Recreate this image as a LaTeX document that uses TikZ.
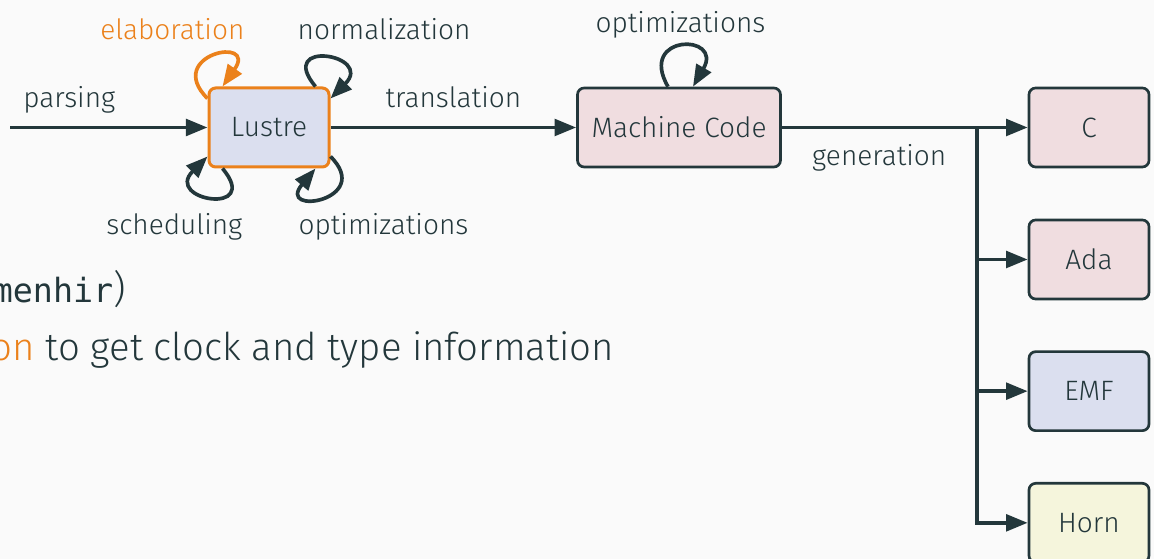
\documentclass[tikz,border=0pt]{standalone}
\usepackage{fontspec}
\setmainfont{Fira Sans Light}
\setmonofont{DejaVu Sans Mono}[Scale=0.87]
\usetikzlibrary{arrows.meta,positioning}

\definecolor{mDarkTeal}{HTML}{23373B}
\definecolor{mLightBrown}{HTML}{EB811B}
\definecolor{mBg}{HTML}{FAFAFA}
\definecolor{irBlue}{HTML}{DBDFEF}
\definecolor{irPink}{HTML}{F0DDE0}
\definecolor{irYellow}{HTML}{F5F5DC}

\tikzset{
  lang/.style={draw=mDarkTeal, line width=0.8pt, rounded corners=2pt, text=mDarkTeal,
    minimum width=36pt, minimum height=23.7pt, inner xsep=4.2pt, font=\fontsize{8.4}{10}\selectfont},
  flow/.style={draw=mDarkTeal, line width=1.1pt, -{Triangle[length=6.5pt,width=5pt]}},
  lbl/.style={text=mDarkTeal, font=\fontsize{8.4}{10}\selectfont, text height=7.6pt, text depth=2.1pt},
  passlbl/.style={lbl, inner sep=0pt},
  slide/.style={text=mDarkTeal, inner sep=0pt, anchor=base east, font=\fontsize{11.5}{14}\selectfont},
}

\begin{document}
\begin{tikzpicture}[node distance=123pt, on grid]
  \fill[mBg] (0,0) rectangle (346.2pt,-167.7pt);
  \useasboundingbox (0,0) rectangle (346.2pt,-167.7pt);
  \clip (0,0) rectangle (346.2pt,-167.7pt);

  % slide text behind the diagram
  \node[slide] (tool) at (37.9pt,-90.9pt) {\texttt{menhir})};
  \node[slide] (why) at (184.4pt,-108.3pt) {\textcolor{mLightBrown}{on} to get clock and type information};

  \node[lang, draw=mLightBrown, line width=0.9pt, fill=irBlue] (lustre) at (80.7pt,-38.25pt) {Lustre};
  \node[lang, fill=irPink] (mc) [right=of lustre] {Machine Code};
  \node[lang, fill=irPink] (c) [right=of mc] {C};
  \node[lang, fill=irPink] (ada) [below=39.6pt of c] {Ada};
  \node[lang, fill=irBlue] (emf) [below=39.5pt of ada] {EMF};
  \node[lang, fill=irYellow] (horn) [below=39.5pt of emf] {Horn};

  \coordinate[left=77.7pt of lustre] (src);
  \coordinate (split) at ([xshift=-15.3pt]c.west);

  \draw[flow] (src) -- node[lbl, above, pos=0.3] (parsing) {parsing} (lustre);
  \draw[flow] (lustre) -- node[lbl, above] (translation) {translation} (mc);
  \draw[flow, -] (mc) -- node[lbl, below] (generation) {generation} (split);
  \draw[flow] (split) -- (c);
  \draw[flow] (split) |- (ada);
  \draw[flow] (split) |- (emf);
  \draw[flow] (split) |- (horn);

  % passes on Lustre
  \draw[flow, draw=mLightBrown] ([yshift=-3.6pt]lustre.north west) to[out=135, in=55, looseness=8.3] ([xshift=4.5pt]lustre.north west);
  \draw[flow] ([xshift=-4.5pt]lustre.north east) to[out=130, in=45, looseness=8.3] ([yshift=-3.6pt]lustre.north east);
  \draw[flow] ([xshift=4.5pt]lustre.south west) to[out=310, in=225, looseness=8.3] ([yshift=3.6pt]lustre.south west);
  \draw[flow] ([yshift=3.6pt]lustre.south east) to[out=315, in=230, looseness=8.3] ([xshift=-4.5pt]lustre.south east);

  \node[passlbl, anchor=base east, text=mLightBrown] (elab) at (73.5pt,-12pt) {elaboration};
  \node[passlbl, anchor=base west] (norm) at (89.1pt,-12pt) {normalization};
  \node[passlbl, anchor=base east] (sched) at (72.9pt,-70.5pt) {scheduling};
  \node[passlbl, anchor=base west] (lopt) at (89.4pt,-70.5pt) {optimizations};

  % pass on Machine Code
  \draw[flow] ([xshift=-3.3pt]mc.north) to[out=120, in=60, looseness=6.3] node[lbl, above, yshift=-1.6pt] (mcopt) {optimizations} ([xshift=4.2pt]mc.north);
\end{tikzpicture}
\end{document}
